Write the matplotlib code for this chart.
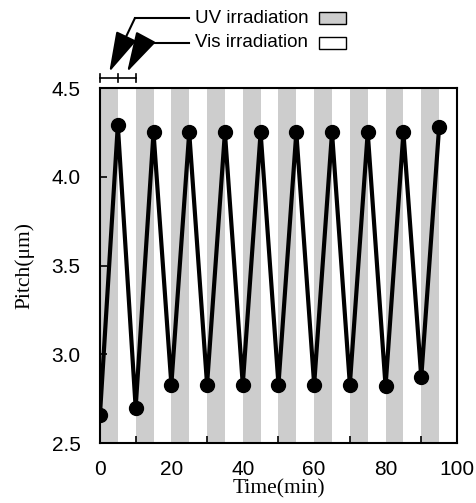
import matplotlib.pyplot as plt
from matplotlib.patches import Rectangle
import matplotlib.transforms as mtransforms

# time (min) and pitch (um)
time = [0, 5, 10, 15, 20, 25, 30, 35, 40, 45, 50, 55, 60, 65, 70, 75, 80, 85, 90, 95]
pitch = [2.66, 4.29, 2.70, 4.25, 2.83, 4.25, 2.83, 4.25, 2.83, 4.25,
         2.83, 4.25, 2.83, 4.25, 2.83, 4.25, 2.82, 4.25, 2.87, 4.28]
uv_starts = [0, 10, 20, 30, 40, 50, 60, 70, 80, 90]
uv_len = 5
xticks = [0, 20, 40, 60, 80, 100]
yticks = [2.5, 3.0, 3.5, 4.0, 4.5]

sans = 'Liberation Sans'
serif = 'Liberation Serif'
grey = '#cdcdcd'

fig = plt.figure(figsize=(4.76, 5.03), dpi=100)
ax = fig.add_axes([0.21, 0.119, 0.75, 0.706])

# irradiation bands
for s in uv_starts:
    ax.axvspan(s, s + uv_len, color=grey, lw=0, zorder=0)

ax.plot(time, pitch, '-o', color='k', lw=3, ms=10, zorder=3)

ax.set_xlim(0, 100)
ax.set_ylim(2.5, 4.5)
ax.set_xticks(xticks)
ax.set_xticks(range(10, 100, 10), minor=True)
ax.set_yticks(yticks)
ax.set_yticklabels(['%.1f' % v for v in yticks])
ax.tick_params(which='both', direction='in', length=5, width=1.2)
ax.tick_params(which='major', axis='x', length=0)
ax.tick_params(axis='y', labelsize=15, pad=14)
ax.tick_params(axis='x', labelsize=15, pad=12)
for lab in ax.get_xticklabels() + ax.get_yticklabels():
    lab.set_fontfamily(sans)
for sp in ax.spines.values():
    sp.set_linewidth(1.5)

ax.set_xlabel('Time(min)', fontsize=15.5, family=serif, labelpad=0)
ax.set_ylabel('Pitch(μm)', fontsize=15.5, family=serif, labelpad=12)

# bracket above the first UV / Vis period
trans = mtransforms.blended_transform_factory(ax.transData, ax.transAxes)
yb = 1.028
ax.plot([0, 10], [yb, yb], color='k', lw=1.2, transform=trans, clip_on=False)
for xb in [0, 5, 10]:
    ax.plot([xb, xb], [yb - 0.012, yb + 0.012], color='k', lw=1.2,
            transform=trans, clip_on=False)

# callouts
callouts = [('UV irradiation', 1.197, 9.8, 2.6, grey),
            ('Vis irradiation', 1.127, 12.0, 7.6, 'white')]
for label, yt, xc, xtip, fc in callouts:
    ax.plot([xc, 25.0], [yt, yt], color='k', lw=1.5, transform=trans,
            clip_on=False)
    ax.annotate('', xy=(xtip, 1.045), xycoords=trans,
                xytext=(xc, yt), textcoords=trans,
                arrowprops=dict(arrowstyle='-|>,head_length=1.8,head_width=0.5',
                                color='k', lw=1.5, mutation_scale=14,
                                shrinkA=0, shrinkB=0))
    ax.text(26.5, yt, label, transform=trans, fontsize=13.5, family=sans,
            va='center', ha='left')
    ax.add_patch(Rectangle((0.614, yt - 0.018), 0.075, 0.036,
                           transform=ax.transAxes, facecolor=fc,
                           edgecolor='k', lw=1, clip_on=False))

fig.savefig('out.png', dpi=100)
